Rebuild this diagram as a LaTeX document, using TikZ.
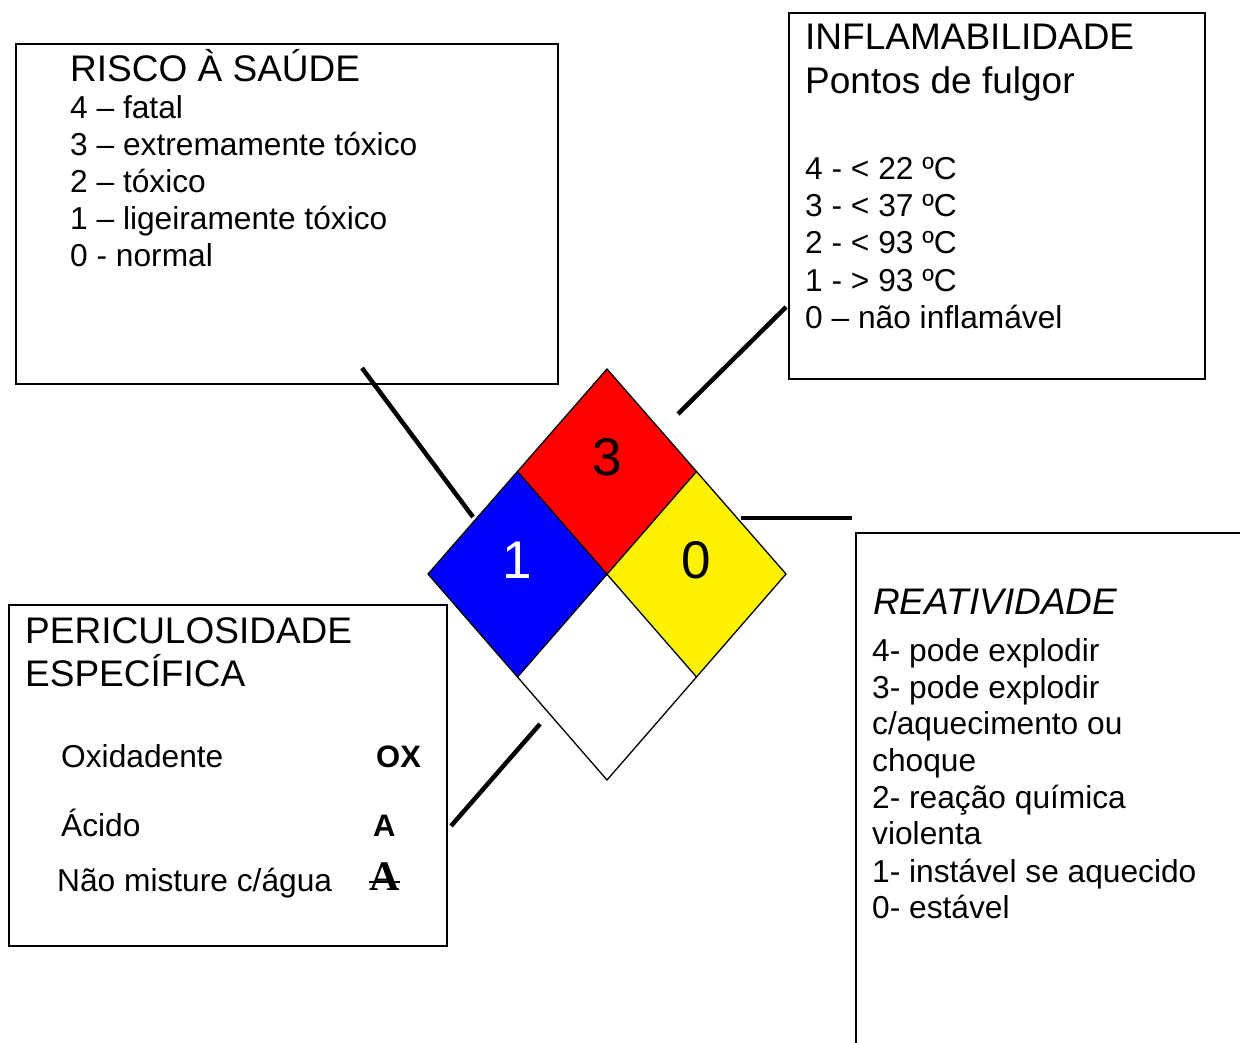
\documentclass[tikz,border=0pt]{standalone}
\usepackage{fontspec}
\setmainfont{Liberation Sans}
\newfontfamily\serifbold{Liberation Serif}
\begin{document}
\begin{tikzpicture}[x=1pt,y=-1pt,
  box/.style={draw=black,line width=2pt},
  link/.style={draw=black,line width=4.5pt},
  cell/.style={draw=black,line width=1.3pt,line join=miter},
  head/.style={anchor=base west,inner sep=0pt,font=\fontsize{37}{43}\selectfont},
  body/.style={anchor=base west,inner sep=0pt,font=\fontsize{31.7}{37}\selectfont},
  num/.style={inner sep=0pt,font=\fontsize{53}{60}\selectfont}]
\useasboundingbox (0,0) rectangle (1240,1043);
\begin{scope}
\clip (0,0) rectangle (1240,1043);
% boxes
\draw[box] (16,44) rectangle (558,384);
\draw[box] (789,13) rectangle (1205,379);
\draw[box] (9,605) rectangle (447,946);
\draw[box] (856,533) rectangle (1260,1070);
\end{scope}
% diamond
\coordinate (T) at (607,369);
\coordinate (L) at (428,574);
\coordinate (R) at (786,574);
\coordinate (B) at (607,780);
\coordinate (C) at (607,574);
\coordinate (UL) at (517.5,471.5);
\coordinate (UR) at (696.5,471.5);
\coordinate (LL) at (517.5,677);
\coordinate (LR) at (696.5,677);
\fill[red] (T) -- (UR) -- (C) -- (UL) -- cycle;
\fill[blue] (UL) -- (C) -- (LL) -- (L) -- cycle;
\fill[yellow] (UR) -- (R) -- (LR) -- (C) -- cycle;
\fill[white] (C) -- (LR) -- (B) -- (LL) -- cycle;
\draw[cell] (T) -- (R) -- (B) -- (L) -- cycle;
\draw[cell] (UL) -- (LR);
\draw[cell] (UR) -- (LL);
\node[num] (n3) at (607,457) {3};
\node[num,text=white] (n1) at (517,560) {1};
\node[num] (n0) at (696,560) {0};
% connectors
\coordinate (h1) at (362,368); \coordinate (h2) at (473,517);
\coordinate (f1) at (678,414); \coordinate (f2) at (786,307);
\coordinate (r1) at (741,518); \coordinate (r2) at (852,518);
\coordinate (s1) at (540,724); \coordinate (s2) at (451,826);
\draw[link] (h1) -- (h2);
\draw[link] (f1) -- (f2);
\draw[link] (r1) -- (r2);
\draw[link] (s1) -- (s2);
% health
\node[head] (hh) at (70,82) {RISCO À SAÚDE};
\node[body] (h4) at (70,119) {4 – fatal};
\node[body] (h3) at (70,156) {3 – extremamente tóxico};
\node[body] (h2t) at (70,193) {2 – tóxico};
\node[body] (h1t) at (70,230) {1 – ligeiramente tóxico};
\node[body] (h0) at (70,267) {0 - normal};
% flammability
\node[head] (fh) at (805,50) {INFLAMABILIDADE};
\node[head] (fh2) at (805,94) {Pontos de fulgor};
\node[body] (f4) at (805,180) {4 - < 22 ºC};
\node[body] (f3) at (805,217) {3 - < 37 ºC};
\node[body] (f2t) at (805,254) {2 - < 93 ºC};
\node[body] (f1t) at (805,291) {1 - > 93 ºC};
\node[body] (f0) at (805,328) {0 – não inflamável};
% specific
\node[head] (sh) at (25,643) {PERICULOSIDADE};
\node[head] (sh2) at (25,686) {ESPECÍFICA};
\node[body] (so) at (61,767) {Oxidadente};
\node[body] (sa) at (61,836) {Ácido};
\node[body] (sw) at (57,891) {Não misture c/água};
\node[body,font=\fontsize{31}{37}\selectfont\bfseries] (sox) at (376,767) {OX};
\node[body,font=\fontsize{31}{37}\selectfont\bfseries] (sA) at (373,836) {A};
\node[body,font=\fontsize{42}{48}\selectfont\serifbold\bfseries] (sW) at (369,890) {A};
\draw[line width=2pt] (sW.west |- 0,881.5) -- (sW.east |- 0,881.5);
% reactivity
\node[head,font=\fontsize{37}{43}\selectfont\itshape] (rh) at (873,614) {REATIVIDADE};
\node[body] (r4) at (872,661) {4- pode explodir};
\node[body] (r3) at (872,698) {3- pode explodir};
\node[body] (r3b) at (872,734) {c/aquecimento ou};
\node[body] (r3c) at (872,771) {choque};
\node[body] (r2t) at (872,808) {2- reação química};
\node[body] (r2b) at (872,844) {violenta};
\node[body] (r1t) at (872,882) {1- instável se aquecido};
\node[body] (r0) at (872,918) {0- estável};
\end{tikzpicture}
\end{document}
